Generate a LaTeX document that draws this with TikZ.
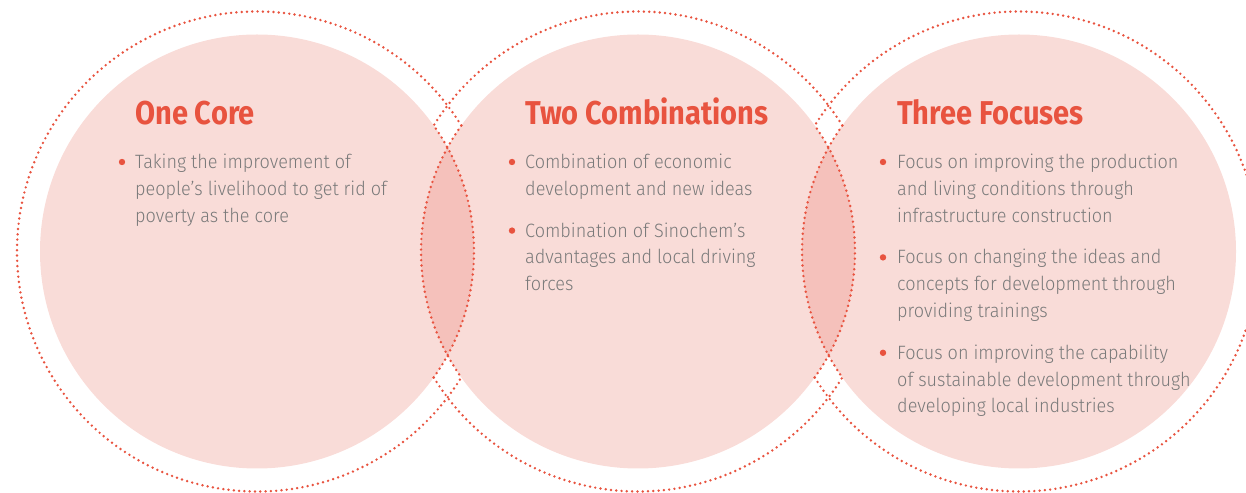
\documentclass[tikz,border=0pt]{standalone}
\usepackage{fontspec}
\usetikzlibrary{calc}
\newfontfamily\bodyf{Fira Sans Light}[FakeStretch=0.935]
\newfontfamily\titlef{Fira Sans}[FakeStretch=0.88]
\definecolor{pinkfill}{HTML}{F9DCD8}
\definecolor{lensfill}{HTML}{F5C1BB}
\definecolor{accent}{HTML}{E8533F}
\definecolor{graytext}{HTML}{7A7A7A}
\tikzset{
  dotline/.style={accent, line width=2.7pt, line cap=round, dash pattern=on 0pt off 5.3pt},
  titletext/.style={accent, font=\titlef\bfseries\fontsize{33}{36}\selectfont, inner sep=0pt, anchor=base west},
  bodytext/.style={graytext, font=\bodyf\fontsize{19.3}{26.8}\selectfont, inner sep=0pt, anchor=base west},
  bulletdot/.style={accent}
}
\newcommand\bline[4]{\node[bodytext] (#1) at (#2,#3) {#4};}
\begin{document}
\begin{tikzpicture}[x=1pt,y=1pt]
\useasboundingbox (0,0) rectangle (1246,492);
\clip (0,0) rectangle (1246,492);
\coordinate (c1) at (257,240.5);
\coordinate (c2) at (638,240.5);
\coordinate (c3) at (1019,240.5);
% filled circles
\fill[pinkfill] (c1) circle (217);
\fill[pinkfill] (c2) circle (217);
\fill[pinkfill] (c3) circle (217);
% lenses
\begin{scope}
  \clip (c1) circle (217);
  \fill[lensfill] (c2) circle (217);
\end{scope}
\begin{scope}
  \clip (c3) circle (217);
  \fill[lensfill] (c2) circle (217);
\end{scope}
% dotted outer rings, interrupted by neighbouring fills
\draw[dotline] ($(c1)+(31.66:240)$) arc[start angle=31.66, end angle=328.34, radius=240];
\draw[dotline] ($(c2)+(31.66:240)$) arc[start angle=31.66, end angle=148.34, radius=240];
\draw[dotline] ($(c2)+(211.66:240)$) arc[start angle=211.66, end angle=328.34, radius=240];
\draw[dotline] ($(c3)+(-148.34:240)$) arc[start angle=-148.34, end angle=148.34, radius=240];
% dotted edges of fills inside neighbouring rings
\draw[dotline] ($(c1)+(-35.49:217)$) arc[start angle=-35.49, end angle=35.49, radius=217];
\draw[dotline] ($(c2)+(144.51:217)$) arc[start angle=144.51, end angle=215.49, radius=217];
\draw[dotline] ($(c2)+(-35.49:217)$) arc[start angle=-35.49, end angle=35.49, radius=217];
\draw[dotline] ($(c3)+(144.51:217)$) arc[start angle=144.51, end angle=215.49, radius=217];
% titles
\node[titletext] (t1) at (135,367) {One Core};
\node[titletext] (t2) at (525,367) {Two Combinations};
\node[titletext] (t3) at (897,367) {Three Focuses};
% circle 1 text
\fill[bulletdot] (122,330) circle (3.2);
\bline{a1}{135}{323.5}{Taking the improvement of}
\bline{a2}{135}{296.7}{people’s livelihood to get rid of}
\bline{a3}{135}{269.9}{poverty as the core}
% circle 2 text
\fill[bulletdot] (512,330) circle (3.2);
\bline{b1}{525}{323.5}{Combination of economic}
\bline{b2}{525}{296.7}{development and new ideas}
\fill[bulletdot] (512,261.4) circle (3.2);
\bline{b3}{525}{254.9}{Combination of Sinochem’s}
\bline{b4}{525}{228.1}{advantages and local driving}
\bline{b5}{525}{201.3}{forces}
% circle 3 text
\fill[bulletdot] (883,330) circle (3.2);
\bline{d1}{897}{323.5}{Focus on improving the production}
\bline{d2}{897}{296.7}{and living conditions through}
\bline{d3}{897}{269.9}{infrastructure construction}
\fill[bulletdot] (883,234.6) circle (3.2);
\bline{d4}{897}{228.1}{Focus on changing the ideas and}
\bline{d5}{897}{201.3}{concepts for development through}
\bline{d6}{897}{174.5}{providing trainings}
\fill[bulletdot] (883,139.2) circle (3.2);
\bline{d7}{897}{132.7}{Focus on improving the capability}
\bline{d8}{897}{105.9}{of sustainable development through}
\bline{d9}{897}{79.1}{developing local industries}
\end{tikzpicture}
\end{document}
